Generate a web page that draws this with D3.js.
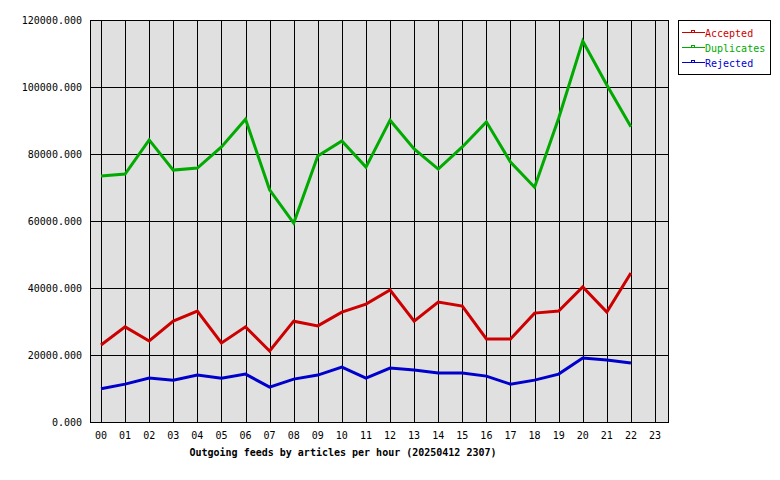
<!DOCTYPE html>
<html>
<head>
<meta charset="utf-8">
<script src="https://cdnjs.cloudflare.com/ajax/libs/d3/7.8.5/d3.min.js"></script>
<style>
body { margin: 0; background: #fff; }
text { font-family: "DejaVu Sans Mono", monospace; font-size: 10px; }
</style>
</head>
<body>
<script>
var hours = d3.range(24).map(function (h) { return (h < 10 ? "0" : "") + h; });
var yTicks = [0, 20000, 40000, 60000, 80000, 100000, 120000];
var accepted = [23000, 28400, 24200, 30100, 33100, 23600, 28400, 21200, 30100, 28700, 32800, 35200, 39400, 30100, 35800, 34600, 24800, 24800, 32500, 33100, 40300, 32800, 44500];
var duplicates = [73400, 74000, 84200, 75200, 75800, 82100, 90400, 69300, 59400, 79400, 83900, 76100, 90100, 81500, 75500, 82100, 89600, 77600, 70100, 90700, 113700, 100600, 88100];
var rejected = [9900, 11300, 13100, 12500, 14000, 13100, 14300, 10400, 12800, 14000, 16400, 13100, 16100, 15500, 14600, 14600, 13700, 11300, 12500, 14300, 19100, 18500, 17600];
var series = [
  { name: "Accepted", values: accepted, color: "#cc0000" },
  { name: "Duplicates", values: duplicates, color: "#00aa00" },
  { name: "Rejected", values: rejected, color: "#0000cc" }
];

var w = 780, h = 480;
var pLeft = 90, pRight = 668, pTop = 20, pBottom = 422;

var svg = d3.select("body").append("svg").attr("width", w).attr("height", h);

var x = d3.scaleLinear().domain([0, 23]).range([101, 655]);
var y = d3.scaleLinear().domain([0, 120000]).range([pBottom, pTop]);

svg.append("rect").attr("x", pLeft).attr("y", pTop)
  .attr("width", pRight - pLeft).attr("height", pBottom - pTop)
  .attr("fill", "#e0e0e0");

svg.selectAll("line.vg").data(hours).enter().append("line")
  .attr("x1", function (d, i) { return Math.round(x(i)) + 0.5; })
  .attr("x2", function (d, i) { return Math.round(x(i)) + 0.5; })
  .attr("y1", pTop).attr("y2", pBottom)
  .attr("stroke", "#000");

svg.selectAll("line.hg").data(yTicks).enter().append("line")
  .attr("x1", pLeft).attr("x2", pRight)
  .attr("y1", function (d) { return Math.round(y(d)) + 0.5; })
  .attr("y2", function (d) { return Math.round(y(d)) + 0.5; })
  .attr("stroke", "#000");

svg.append("rect").attr("x", pLeft + 0.5).attr("y", pTop + 0.5)
  .attr("width", pRight - pLeft).attr("height", pBottom - pTop)
  .attr("fill", "none").attr("stroke", "#000");

svg.selectAll("text.yl").data(yTicks).enter().append("text")
  .attr("x", pLeft - 8).attr("y", function (d) { return y(d) + 4; })
  .attr("text-anchor", "end")
  .text(function (d) { return d + ".000"; });

svg.selectAll("text.xl").data(hours).enter().append("text")
  .attr("x", function (d, i) { return x(i); }).attr("y", pBottom + 17)
  .attr("text-anchor", "middle")
  .text(function (d) { return d; });

svg.append("text").attr("x", 343).attr("y", 456)
  .attr("text-anchor", "middle").attr("font-weight", "bold").attr("font-size", "11px")
  .text("Outgoing feeds by articles per hour (20250412 2307)");

var line = d3.line()
  .x(function (d, i) { return x(i); })
  .y(function (d) { return y(d); });

series.forEach(function (s) {
  svg.append("path").attr("d", line(s.values))
    .attr("fill", "none").attr("stroke", s.color).attr("stroke-width", 3);
});

var lg = svg.append("g");
lg.append("rect").attr("x", 678.5).attr("y", 20.5).attr("width", 92).attr("height", 54)
  .attr("fill", "#fff").attr("stroke", "#000");
series.forEach(function (s, i) {
  var yy = 33 + i * 15;
  lg.append("line").attr("x1", 682).attr("x2", 705).attr("y1", yy - 0.5).attr("y2", yy - 0.5)
    .attr("stroke", s.color);
  lg.append("rect").attr("x", 691.5).attr("y", yy - 2.5).attr("width", 3).attr("height", 2)
    .attr("fill", "none").attr("stroke", s.color).attr("stroke-width", 1);
  lg.append("text").attr("x", 705).attr("y", yy + 4).attr("fill", s.color).text(s.name);
});
</script>
</body>
</html>
